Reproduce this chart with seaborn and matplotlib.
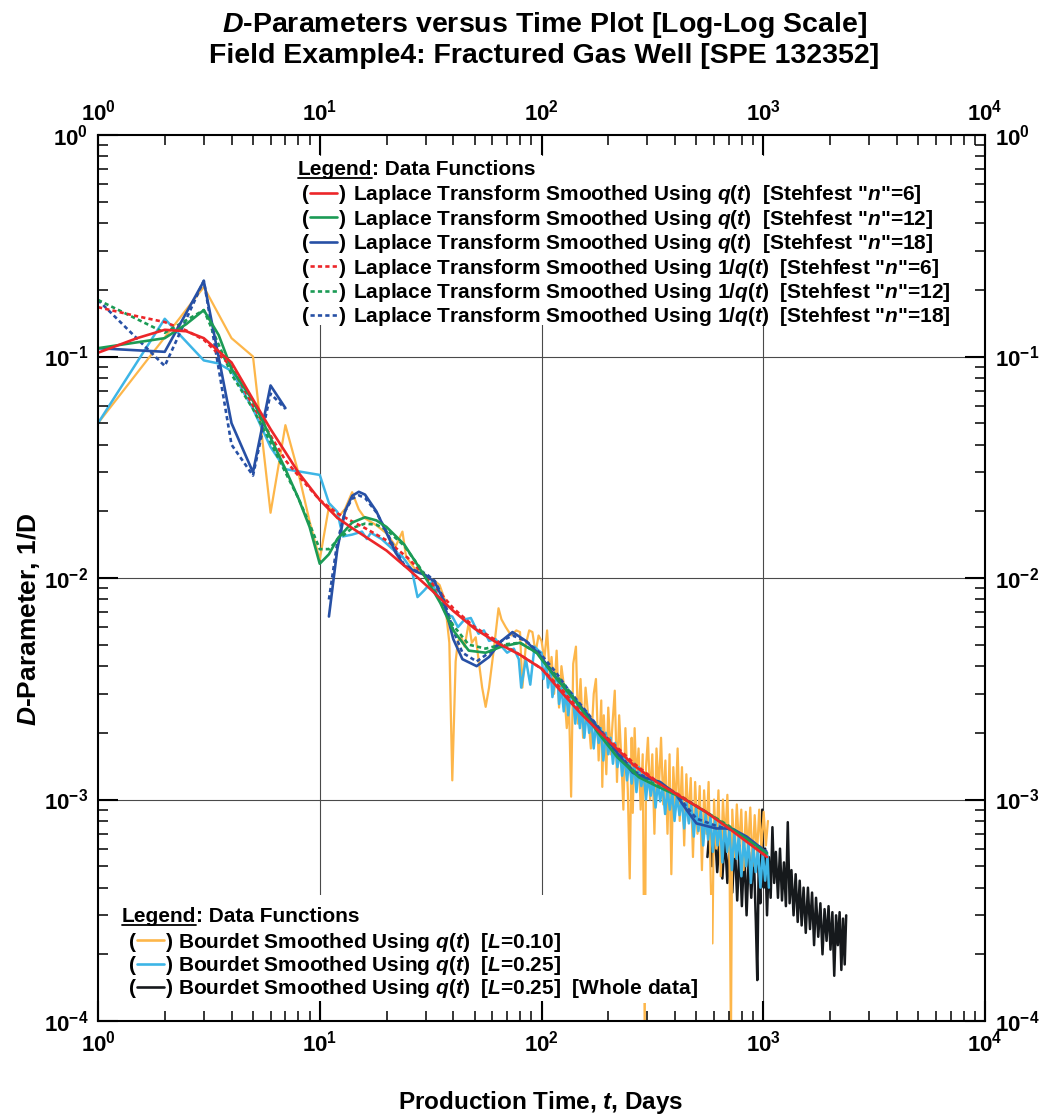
import numpy as np
import pandas as pd
import seaborn as sns
import matplotlib
matplotlib.use("Agg")
import matplotlib.pyplot as plt
from matplotlib import ticker, font_manager
from matplotlib.lines import Line2D
from matplotlib.patches import Rectangle

# ---------------------------------------------------------------- data
# Laplace-transform smoothed D-parameter, q(t) based (Stehfest n = 6, 12, 18)
t_q6 = [1, 1.5, 2, 2.5, 3, 4, 5, 6, 7, 8, 10, 12, 14, 16, 20, 25, 32, 40, 50, 63,
        80, 100, 125, 150, 200, 260, 330, 430, 550, 700, 850, 1040]
d_q6 = [0.104, 0.121, 0.132, 0.130, 0.121, 0.094, 0.064, 0.047, 0.037, 0.030, 0.0225,
        0.0187, 0.0168, 0.0154, 0.0133, 0.0110, 0.0088, 0.0071, 0.0059, 0.0051, 0.0045,
        0.0039, 0.0030, 0.00245, 0.00185, 0.00143, 0.00120, 0.00102, 0.00088, 0.00074,
        0.00064, 0.00055]

t_q12 = [1, 2, 2.5, 3, 3.5, 4, 5, 6, 7, 8, 9, 10, 11, 12, 14, 16, 18, 20, 24, 28, 32,
         35, 40, 47, 56, 66, 80, 95, 112, 130, 150, 180, 220, 275, 330, 430, 550, 700,
         850, 1040]
d_q12 = [0.109, 0.121, 0.140, 0.162, 0.125, 0.088, 0.063, 0.043, 0.031, 0.023, 0.017,
         0.0116, 0.0128, 0.0150, 0.0178, 0.0188, 0.0182, 0.0170, 0.0142, 0.0112, 0.0090,
         0.0077, 0.0058, 0.0047, 0.0046, 0.0049, 0.0051, 0.0046, 0.0037, 0.0031, 0.0026,
         0.0020, 0.00155, 0.00126, 0.00115, 0.00102, 0.00088, 0.00075, 0.00066, 0.00057]

t_q18_a = [1, 2, 3, 4, 5, 6, 7]
d_q18_a = [0.109, 0.105, 0.219, 0.050, 0.030, 0.074, 0.0585]
t_q18_b = [11, 12, 13, 14, 15, 16, 18, 20, 22, 24, 27, 30, 33, 36, 40, 44, 51, 58, 66,
           74, 85, 98, 115, 130, 159, 209, 258, 290, 343, 405, 450, 500, 614, 720, 842,
           1040]
d_q18_b = [0.0067, 0.0135, 0.0200, 0.0235, 0.0245, 0.0238, 0.0200, 0.0160, 0.0130,
           0.0114, 0.0107, 0.0103, 0.0096, 0.0080, 0.0053, 0.0043, 0.0040, 0.0044,
           0.0052, 0.0057, 0.0052, 0.0045, 0.0036, 0.0031, 0.00246, 0.00173, 0.00132,
           0.00126, 0.00120, 0.00105, 0.00090, 0.00078, 0.00074, 0.00074, 0.00068,
           0.000575]

# Laplace-transform smoothed D-parameter, 1/q(t) based
t_iq6 = [1, 1.5, 2, 2.5, 3, 4, 5, 6, 7, 8, 10, 12, 14, 16, 20, 25, 32, 40, 50, 63, 80,
         100, 125, 150, 200, 260, 330, 430, 550, 700, 850, 1040]
d_iq6 = [0.167, 0.152, 0.143, 0.131, 0.119, 0.090, 0.060, 0.044, 0.034, 0.029, 0.0225,
         0.0196, 0.0180, 0.0168, 0.0148, 0.0123, 0.0095, 0.0073, 0.0060, 0.0052, 0.0045,
         0.0039, 0.0031, 0.0025, 0.00188, 0.00146, 0.00121, 0.00103, 0.00088, 0.00075,
         0.00065, 0.00056]

t_iq12 = [1, 2, 3, 4, 5, 6, 7, 8, 9, 10, 11, 12, 14, 16, 18, 20, 24, 28, 32, 35, 40, 47,
          56, 66, 80, 95, 112, 130, 150, 180, 220, 275, 330, 430, 550, 700, 850, 1040]
d_iq12 = [0.180, 0.128, 0.162, 0.083, 0.058, 0.041, 0.030, 0.023, 0.0175, 0.0135,
          0.0135, 0.0148, 0.0168, 0.0176, 0.0174, 0.0165, 0.0140, 0.0113, 0.0092, 0.0079,
          0.0061, 0.0050, 0.0048, 0.0050, 0.0051, 0.0046, 0.0038, 0.0032, 0.0026, 0.0021,
          0.00158, 0.00128, 0.00116, 0.00102, 0.00088, 0.00076, 0.00066, 0.00057]

t_iq18_a = [1, 2, 3, 4, 5, 6, 7]
d_iq18_a = [0.180, 0.0906, 0.220, 0.040, 0.029, 0.068, 0.058]
t_iq18_b = [11, 12, 13, 14, 15, 16, 18, 20, 22, 24, 27, 30, 33, 36, 40, 44, 51, 58, 66,
            74, 85, 98, 115, 130, 159, 209, 258, 290, 343, 405, 450, 500, 614, 720, 842,
            1040]
d_iq18_b = [0.0080, 0.0145, 0.0200, 0.0228, 0.0236, 0.0230, 0.0198, 0.0162, 0.0133,
            0.0115, 0.0108, 0.0105, 0.0097, 0.0082, 0.0058, 0.0046, 0.0042, 0.0046,
            0.0052, 0.0055, 0.0052, 0.0046, 0.0038, 0.0032, 0.0025, 0.00176, 0.00135,
            0.00127, 0.00119, 0.00106, 0.00093, 0.00082, 0.00076, 0.00073, 0.00067,
            0.00058]

# Bourdet smoothed derivative, L = 0.10
t_b010 = [1, 2, 3, 4, 5, 6, 7, 8, 9, 10, 11, 12, 13, 14, 15, 16, 18, 20, 22, 23.6, 24.5,
          27, 29, 31, 33, 34.7, 36.6, 38.4, 39.6, 41, 42, 43.5, 45, 47, 48.5, 50.5, 54,
          56, 58, 61, 64, 66, 69, 73, 77, 80, 82, 85, 88, 91, 94, 97,
          100, 103, 106, 109, 111, 114, 117, 120, 123, 126, 130, 133, 136, 139, 143, 146,
          150, 154, 158, 163, 167, 172, 176, 181, 186, 188, 191, 196, 200, 205, 209, 214,
          219, 224, 229, 234, 239, 245, 250, 255, 258, 263, 268, 274, 280, 286, 292, 296,
          302, 309, 316, 323, 330, 338, 346, 354, 362, 370, 378, 385, 393, 402, 411, 420,
          430, 440, 450, 460, 471, 482, 493, 505, 517, 529, 541, 554, 567, 580, 590, 600,
          614, 628, 643, 658, 673, 689, 705, 715, 725, 742, 760, 778, 796, 815, 834, 854,
          874, 894, 915, 937, 959, 981, 1004, 1028, 1050]
d_b010 = [0.050, 0.122, 0.206, 0.121, 0.100, 0.0197, 0.049, 0.030, 0.018, 0.0121, 0.021,
          0.0186, 0.0205, 0.0244, 0.0204, 0.0186, 0.0173, 0.0159, 0.0139, 0.0162, 0.0125,
          0.0109, 0.0106, 0.0100, 0.0097, 0.0093, 0.0080, 0.0051, 0.00122, 0.0042, 0.0052,
          0.0054, 0.0049, 0.0063, 0.0051, 0.0054, 0.0032, 0.00262, 0.0032, 0.0048, 0.0073,
          0.0065, 0.0060, 0.0055, 0.0058, 0.0057, 0.0032, 0.0050, 0.0058, 0.0057, 0.0046,
          0.0055,
          0.0052, 0.0043, 0.0058, 0.0036, 0.0044, 0.0030, 0.0047, 0.0026, 0.0040, 0.0033,
          0.0021, 0.0027, 0.00103, 0.0041, 0.0049, 0.0022, 0.0035, 0.0019, 0.0032, 0.0023,
          0.0017, 0.0030, 0.0035, 0.0015, 0.0028, 0.00114, 0.0024, 0.0013, 0.0026, 0.0016,
          0.0022, 0.0031, 0.0012, 0.0024, 0.00155, 0.0009, 0.0021, 0.0011, 0.00044, 0.0019,
          0.00087, 0.0021, 0.0012, 0.0017, 0.0009, 0.0016, 0.00009, 0.0014, 0.0019, 0.0010,
          0.0016, 0.0007, 0.0017, 0.0011, 0.0019, 0.00095, 0.0015, 0.0007, 0.0016, 0.00046,
          0.0014, 0.0009, 0.0017, 0.0008, 0.0014, 0.00062, 0.0013, 0.0008, 0.00125, 0.00055,
          0.0012, 0.0007, 0.00115, 0.00048, 0.0011, 0.0007, 0.0012, 0.00042, 0.000224,
          0.0010, 0.0006, 0.0011, 0.00045, 0.0010, 0.00065, 0.00105, 0.0005, 0.00008,
          0.0009, 0.00055, 0.00095, 0.0006, 0.0009, 0.00048, 0.00088, 0.00058, 0.00092,
          0.0005, 0.00085, 0.00056, 0.0009, 0.0006, 0.00088, 0.00062, 0.0008]

# Bourdet smoothed derivative, L = 0.25
t_b025 = [1, 2, 3, 3.5, 4, 5, 6, 7, 10, 11, 12, 12.7, 14, 15.5, 16.3, 17, 19, 22, 23.6,
          26, 27.6, 29.6, 32, 35, 37, 39.6, 42, 45, 48, 52, 55, 58, 62, 65, 70, 75, 79,
          81, 85, 89, 93, 97,
          100, 102, 105, 107, 110, 112, 115, 118, 120, 123, 126, 129, 132, 135, 138, 142,
          145, 149, 152, 156, 160, 164, 168, 172, 176, 181, 185, 190, 195, 200, 205, 210,
          215, 220, 226, 231, 237, 243, 249, 255, 262, 268, 275, 282, 289, 296, 303, 311,
          319, 327, 335, 343, 352, 361, 370, 379, 389, 398, 408, 419, 429, 440, 451, 462,
          474, 486, 498, 510, 523, 536, 550, 564, 578, 592, 607, 622, 638, 654, 670, 687,
          704, 722, 740, 758, 777, 797, 817, 837, 858, 879, 901, 924, 947, 971, 995, 1020,
          1045, 1060]
d_b025 = [0.050, 0.148, 0.096, 0.093, 0.086, 0.058, 0.039, 0.031, 0.0292, 0.0218, 0.0199,
          0.0154, 0.0157, 0.0162, 0.0150, 0.0160, 0.0150, 0.0131, 0.0125, 0.0109, 0.0082,
          0.0088, 0.0096, 0.0078, 0.0069, 0.0067, 0.0060, 0.0065, 0.0066, 0.0056, 0.0058,
          0.0052, 0.0053, 0.0050, 0.0046, 0.0048, 0.0043, 0.0032, 0.0043, 0.0033, 0.0049,
          0.0047,
          0.0046, 0.0035, 0.0041, 0.0032, 0.0038, 0.0029, 0.0034, 0.0036, 0.0027, 0.0032,
          0.0025, 0.0031, 0.0024, 0.0029, 0.0030, 0.0022, 0.0028, 0.0021, 0.0026, 0.0019,
          0.0025, 0.0020, 0.0023, 0.0017, 0.0022, 0.0018, 0.0021, 0.0015, 0.0020, 0.0016,
          0.0019, 0.00145, 0.0018, 0.0014, 0.00165, 0.00128, 0.00158, 0.00122, 0.00150,
          0.00118, 0.00145, 0.00108, 0.00140, 0.00115, 0.00132, 0.00100, 0.00128, 0.00104,
          0.00124, 0.00092, 0.00120, 0.00098, 0.00116, 0.00086, 0.00112, 0.00090, 0.00108,
          0.00080, 0.00104, 0.00085, 0.00100, 0.00074, 0.00097, 0.00078, 0.00094, 0.00068,
          0.00092, 0.00072, 0.00089, 0.00062, 0.00086, 0.00066, 0.00084, 0.00058, 0.00082,
          0.00062, 0.00079, 0.00052, 0.00077, 0.00058, 0.00074, 0.00048, 0.00071, 0.00054,
          0.00070, 0.00045, 0.00067, 0.00050, 0.00065, 0.00042, 0.00062, 0.00047, 0.00060,
          0.00040, 0.00058, 0.00043, 0.00056, 0.00040]

# Bourdet smoothed derivative, L = 0.25, whole production history
t_bwh = [560, 572, 588, 604, 620, 637, 654, 671, 689, 707, 725, 744, 763, 782, 801, 821,
         841, 862, 883, 904, 926, 940, 954, 970, 990, 1005, 1020, 1040, 1060, 1080, 1100,
         1120, 1140, 1165, 1190, 1215, 1240, 1265, 1290, 1315, 1340, 1370, 1400, 1430,
         1460, 1490, 1520, 1555, 1590, 1625, 1660, 1695, 1730, 1770, 1810, 1850, 1890,
         1930, 1970, 2010, 2050, 2090, 2130, 2170, 2210, 2250, 2290, 2330, 2366]
d_bwh = [0.00055, 0.00072, 0.00050, 0.00075, 0.00047, 0.00070, 0.00044, 0.00068, 0.00042,
         0.00066, 0.00038, 0.00064, 0.00035, 0.00062, 0.00033, 0.00060, 0.00030, 0.00058,
         0.00036, 0.00062, 0.00028, 0.000153, 0.00052, 0.00034, 0.00090, 0.00040, 0.00060,
         0.00030, 0.00055, 0.00036, 0.00075, 0.00042, 0.00058, 0.00036, 0.00060, 0.00035,
         0.00052, 0.00033, 0.00079, 0.00034, 0.00048, 0.00030, 0.00046, 0.00028, 0.00043,
         0.00027, 0.00040, 0.00025, 0.00040, 0.00026, 0.00038, 0.00022, 0.00036, 0.00024,
         0.00034, 0.00020, 0.00032, 0.00023, 0.00033, 0.00021, 0.00031, 0.00016, 0.00030,
         0.00022, 0.00031, 0.00017, 0.00029, 0.00018, 0.00030]

# ---------------------------------------------------------------- style
sns.set_theme(style="white")
_names = {f.name for f in font_manager.fontManager.ttflist}
FONT = "Liberation Sans" if "Liberation Sans" in _names else "DejaVu Sans"
plt.rcParams.update({
    "font.family": [FONT, "DejaVu Sans"],
    "font.weight": "bold",
    "text.color": "black",
    "axes.labelcolor": "black",
    "xtick.color": "black",
    "ytick.color": "black",
    "mathtext.fontset": "custom",
    "mathtext.rm": f"{FONT}:bold",
    "mathtext.bf": f"{FONT}:bold",
    "mathtext.it": f"{FONT}:italic:bold",
    "mathtext.sf": f"{FONT}:bold",
    "axes.unicode_minus": True,
})

C_RED, C_GREEN, C_BLUE = "#EC2629", "#1B9B55", "#2750A5"
C_ORANGE, C_SKY, C_BLACK = "#FDB64A", "#3DB5E6", "#16191C"
DOT = (0, (1.6, 1.2))

fig = plt.figure(figsize=(10.43, 11.2), dpi=100)
ax = fig.add_axes([98 / 1043, 1 - 1021 / 1120, 887 / 1043, 886 / 1120])


def draw(t, d, color, lw, ls="-", z=2.0):
    sns.lineplot(x=t, y=d, ax=ax, color=color, lw=lw, linestyle=ls,
                 estimator=None, sort=False, zorder=z)


# raw-data derivatives
draw(t_bwh, d_bwh, C_BLACK, 1.8, z=2.00)
draw(t_b010, d_b010, C_ORANGE, 1.6, z=2.01)
draw(t_b025, d_b025, C_SKY, 1.8, z=2.02)
# Laplace smoothed curves, 1/q(t) (dotted)
draw(t_iq18_a, d_iq18_a, C_BLUE, 1.9, DOT, z=2.03)
draw(t_iq18_b, d_iq18_b, C_BLUE, 1.9, DOT, z=2.03)
draw(t_iq12, d_iq12, C_GREEN, 1.9, DOT, z=2.04)
draw(t_iq6, d_iq6, C_RED, 1.9, DOT, z=2.05)
# Laplace smoothed curves, q(t) (solid)
draw(t_q18_a, d_q18_a, C_BLUE, 1.9, z=2.06)
draw(t_q18_b, d_q18_b, C_BLUE, 1.9, z=2.06)
draw(t_q12, d_q12, C_GREEN, 1.9, z=2.07)
draw(t_q6, d_q6, C_RED, 1.9, z=2.08)

# ---------------------------------------------------------------- axes
ax.set_xscale("log")
ax.set_yscale("log")
ax.set_xlim(1, 1e4)
ax.set_ylim(1e-4, 1)
ax.set_xlabel("")
ax.set_ylabel("")
ax.set_axisbelow(False)

pow_fmt = ticker.FuncFormatter(lambda v, p: rf"$10^{{{int(round(np.log10(v)))}}}$")
for axis in (ax.xaxis, ax.yaxis):
    axis.set_major_locator(ticker.LogLocator(base=10, numticks=12))
    axis.set_minor_locator(ticker.LogLocator(base=10, subs=np.arange(2, 10), numticks=100))
    axis.set_major_formatter(pow_fmt)
    axis.set_minor_formatter(ticker.NullFormatter())

ax.tick_params(which="both", direction="in", top=True, right=True, bottom=True, left=True,
               labeltop=True, labelright=True, color="black", labelcolor="black")
ax.tick_params(which="major", length=14.4, width=1.5, labelsize=16, pad=7)
ax.tick_params(which="minor", length=7.2, width=1.1)
for s in ax.spines.values():
    s.set_linewidth(1.5)
    s.set_color("black")

for v in (10, 100, 1000):
    ax.axvline(v, color="#4a4a4a", lw=0.8, zorder=1)
for v in (1e-1, 1e-2, 1e-3):
    ax.axhline(v, color="#4a4a4a", lw=0.8, zorder=1)

# ---------------------------------------------------------------- legends
ax.add_patch(Rectangle((0.215, 0.786), 0.770, 0.190, transform=ax.transAxes,
                       facecolor="white", edgecolor="none", zorder=2.3))
ax.add_patch(Rectangle((0.006, 0.020), 0.686, 0.122, transform=ax.transAxes,
                       facecolor="white", edgecolor="none", zorder=2.3))

LEG_FS = 15
headers = []


def header(x, y):
    t1 = ax.text(x, y, "Legend", transform=ax.transAxes, fontsize=LEG_FS,
                 fontweight="bold", ha="left", va="baseline", zorder=2.5)
    ax.annotate(": Data Functions", xy=(1, 0), xycoords=t1, fontsize=LEG_FS,
                fontweight="bold", ha="left", va="bottom", zorder=2.5)
    headers.append(t1)


def row(xs, y_line, y_base, color, ls, label):
    xp, xa, xb, xq, xt = xs
    ax.text(xp, y_base, "(", transform=ax.transAxes, fontsize=LEG_FS, fontweight="bold",
            ha="left", va="baseline", zorder=2.5)
    ax.add_line(Line2D([xa, xb], [y_line, y_line], transform=ax.transAxes, color=color,
                       lw=1.9, linestyle=ls, zorder=2.5))
    ax.text(xq, y_base, ")", transform=ax.transAxes, fontsize=LEG_FS, fontweight="bold",
            ha="left", va="baseline", zorder=2.5)
    ax.text(xt, y_base, label, transform=ax.transAxes, fontsize=LEG_FS, fontweight="bold",
            ha="left", va="baseline", zorder=2.5)


top_rows = [
    (C_RED, "-", r'Laplace Transform Smoothed Using $q(t)$  [Stehfest "$n$"=6]'),
    (C_GREEN, "-", r'Laplace Transform Smoothed Using $q(t)$  [Stehfest "$n$"=12]'),
    (C_BLUE, "-", r'Laplace Transform Smoothed Using $q(t)$  [Stehfest "$n$"=18]'),
    (C_RED, DOT, r'Laplace Transform Smoothed Using $1/q(t)$  [Stehfest "$n$"=6]'),
    (C_GREEN, DOT, r'Laplace Transform Smoothed Using $1/q(t)$  [Stehfest "$n$"=12]'),
    (C_BLUE, DOT, r'Laplace Transform Smoothed Using $1/q(t)$  [Stehfest "$n$"=18]'),
]
bottom_rows = [
    (C_ORANGE, "-", r"Bourdet Smoothed Using $q(t)$  [$L$=0.10]"),
    (C_SKY, "-", r"Bourdet Smoothed Using $q(t)$  [$L$=0.25]"),
    (C_BLACK, "-", r"Bourdet Smoothed Using $q(t)$  [$L$=0.25]  [Whole data]"),
]


def frac_y(py):
    return (1021 - py) / 886


header(0.2255, frac_y(175))
top_x = (0.2300, 0.2395, 0.2695, 0.2720, 0.2875)
for i, (c, ls, lab) in enumerate(top_rows):
    cy = 193 + 24.4 * i
    row(top_x, frac_y(cy), frac_y(cy + 7.5), c, ls, lab)

header(0.0270, frac_y(922))
bot_x = (0.0355, 0.0435, 0.0745, 0.0770, 0.0905)
for i, (c, ls, lab) in enumerate(bottom_rows):
    cy = 940 + 23.5 * i
    row(bot_x, frac_y(cy), frac_y(cy + 7.5), c, ls, lab)

# ---------------------------------------------------------------- titles
fig.text(0.5216, 0.9775, r"$D$-Parameters versus Time Plot [Log-Log Scale]",
         ha="center", va="center", fontsize=20.5, fontweight="bold")
fig.text(0.5216, 0.9500, "Field Example4: Fractured Gas Well [SPE 132352]",
         ha="center", va="center", fontsize=20.5, fontweight="bold")
fig.text(541 / 1043, 1 - 1103 / 1120, r"Production Time, $t$, Days",
         ha="center", va="center", fontsize=17.5, fontweight="bold")
fig.text(29 / 1043, 1 - 619 / 1120, r"$D$-Parameter, 1/D", rotation=90,
         ha="center", va="center", fontsize=19, fontweight="bold")

# underline the legend headings
fig.canvas.draw()
inv = ax.transAxes.inverted()
for t in headers:
    bb = t.get_window_extent()
    (x0, y0), (x1, _) = inv.transform([(bb.x0, bb.y0 + 1), (bb.x1, bb.y0 + 1)])
    ax.add_line(Line2D([x0, x1], [y0, y0], transform=ax.transAxes, color="black",
                       lw=1.3, zorder=2.5))

fig.savefig("out.png", dpi=100)
